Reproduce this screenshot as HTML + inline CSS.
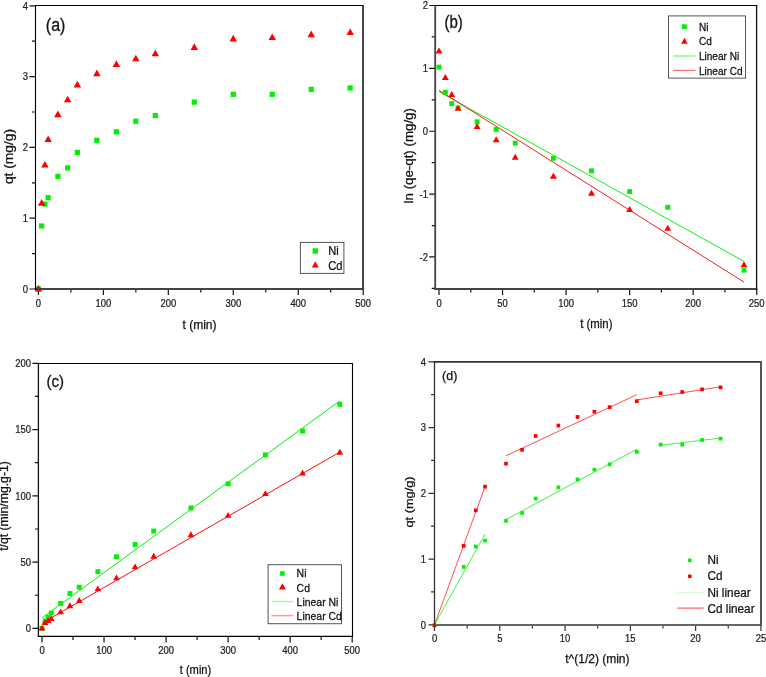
<!DOCTYPE html>
<html><head><meta charset="utf-8"><style>
html,body{margin:0;padding:0;background:#fff;}
svg{display:block;will-change:transform;filter:blur(0.35px);}
</style></head><body>
<svg width="766" height="677" viewBox="0 0 766 677">
<rect width="766" height="677" fill="#fff"/>
<path d="M38.40,289.0v6M103.36,289.0v6M168.32,289.0v6M233.28,289.0v6M298.24,289.0v6M363.20,289.0v6M70.88,289.0v3.5M135.84,289.0v3.5M200.80,289.0v3.5M265.76,289.0v3.5M330.72,289.0v3.5M35.5,289.00h-6M35.5,218.20h-6M35.5,147.40h-6M35.5,76.60h-6M35.5,5.80h-6M35.5,253.60h-3.5M35.5,182.80h-3.5M35.5,112.00h-3.5M35.5,41.20h-3.5" fill="none" stroke="#111" stroke-width="1.2"/>
<text transform="translate(38.40,307.00) scale(0.9,1.0)" font-size="10.5" text-anchor="middle" font-family="Liberation Sans, sans-serif" fill="#222" stroke="#222" stroke-width="0.25">0</text>
<text transform="translate(103.36,307.00) scale(0.9,1.0)" font-size="10.5" text-anchor="middle" font-family="Liberation Sans, sans-serif" fill="#222" stroke="#222" stroke-width="0.25">100</text>
<text transform="translate(168.32,307.00) scale(0.9,1.0)" font-size="10.5" text-anchor="middle" font-family="Liberation Sans, sans-serif" fill="#222" stroke="#222" stroke-width="0.25">200</text>
<text transform="translate(233.28,307.00) scale(0.9,1.0)" font-size="10.5" text-anchor="middle" font-family="Liberation Sans, sans-serif" fill="#222" stroke="#222" stroke-width="0.25">300</text>
<text transform="translate(298.24,307.00) scale(0.9,1.0)" font-size="10.5" text-anchor="middle" font-family="Liberation Sans, sans-serif" fill="#222" stroke="#222" stroke-width="0.25">400</text>
<text transform="translate(363.20,307.00) scale(0.9,1.0)" font-size="10.5" text-anchor="middle" font-family="Liberation Sans, sans-serif" fill="#222" stroke="#222" stroke-width="0.25">500</text>
<text transform="translate(28.00,292.78) scale(0.9,1.0)" font-size="10.5" text-anchor="end" font-family="Liberation Sans, sans-serif" fill="#222" stroke="#222" stroke-width="0.25">0</text>
<text transform="translate(28.00,221.98) scale(0.9,1.0)" font-size="10.5" text-anchor="end" font-family="Liberation Sans, sans-serif" fill="#222" stroke="#222" stroke-width="0.25">1</text>
<text transform="translate(28.00,151.18) scale(0.9,1.0)" font-size="10.5" text-anchor="end" font-family="Liberation Sans, sans-serif" fill="#222" stroke="#222" stroke-width="0.25">2</text>
<text transform="translate(28.00,80.38) scale(0.9,1.0)" font-size="10.5" text-anchor="end" font-family="Liberation Sans, sans-serif" fill="#222" stroke="#222" stroke-width="0.25">3</text>
<text transform="translate(28.00,9.58) scale(0.9,1.0)" font-size="10.5" text-anchor="end" font-family="Liberation Sans, sans-serif" fill="#222" stroke="#222" stroke-width="0.25">4</text>
<text transform="translate(199.50,329.40)" font-size="12" text-anchor="middle" font-family="Liberation Sans, sans-serif" fill="#111" stroke="#111" stroke-width="0.25">t (min)</text>
<text transform="translate(13.40,156.50) rotate(-90) scale(1.15,1)" font-size="12" text-anchor="middle" font-family="Liberation Sans, sans-serif" fill="#111" stroke="#111" stroke-width="0.25">qt (mg/g)</text>
<text transform="translate(45.80,31.00) scale(1,1.13)" font-size="16" text-anchor="start" font-family="Liberation Sans, sans-serif" fill="#111" stroke="#111" stroke-width="0.25">(a)</text>
<rect x="35.80" y="286.40" width="5.2" height="5.2" fill="#00f000"/>
<rect x="39.05" y="223.39" width="5.2" height="5.2" fill="#00f000"/>
<rect x="42.30" y="201.44" width="5.2" height="5.2" fill="#00f000"/>
<rect x="45.54" y="195.07" width="5.2" height="5.2" fill="#00f000"/>
<rect x="55.29" y="173.83" width="5.2" height="5.2" fill="#00f000"/>
<rect x="65.03" y="165.33" width="5.2" height="5.2" fill="#00f000"/>
<rect x="74.78" y="149.76" width="5.2" height="5.2" fill="#00f000"/>
<rect x="94.26" y="137.72" width="5.2" height="5.2" fill="#00f000"/>
<rect x="113.75" y="129.22" width="5.2" height="5.2" fill="#00f000"/>
<rect x="133.24" y="118.60" width="5.2" height="5.2" fill="#00f000"/>
<rect x="152.73" y="112.94" width="5.2" height="5.2" fill="#00f000"/>
<rect x="191.70" y="99.49" width="5.2" height="5.2" fill="#00f000"/>
<rect x="230.68" y="91.70" width="5.2" height="5.2" fill="#00f000"/>
<rect x="269.66" y="91.70" width="5.2" height="5.2" fill="#00f000"/>
<rect x="308.63" y="86.74" width="5.2" height="5.2" fill="#00f000"/>
<rect x="347.61" y="85.33" width="5.2" height="5.2" fill="#00f000"/>
<path d="M38.40,284.78L42.15,291.38L34.65,291.38Z" fill="#ff0000"/>
<path d="M41.65,199.11L45.40,205.71L37.90,205.71Z" fill="#ff0000"/>
<path d="M44.90,160.88L48.65,167.48L41.15,167.48Z" fill="#ff0000"/>
<path d="M48.14,135.39L51.89,141.99L44.39,141.99Z" fill="#ff0000"/>
<path d="M57.89,110.61L61.64,117.21L54.14,117.21Z" fill="#ff0000"/>
<path d="M67.63,95.74L71.38,102.34L63.88,102.34Z" fill="#ff0000"/>
<path d="M77.38,80.87L81.13,87.47L73.63,87.47Z" fill="#ff0000"/>
<path d="M96.86,69.54L100.61,76.14L93.11,76.14Z" fill="#ff0000"/>
<path d="M116.35,60.34L120.10,66.94L112.60,66.94Z" fill="#ff0000"/>
<path d="M135.84,54.68L139.59,61.28L132.09,61.28Z" fill="#ff0000"/>
<path d="M155.33,49.72L159.08,56.32L151.58,56.32Z" fill="#ff0000"/>
<path d="M194.30,43.35L198.05,49.95L190.55,49.95Z" fill="#ff0000"/>
<path d="M233.28,34.85L237.03,41.45L229.53,41.45Z" fill="#ff0000"/>
<path d="M272.26,33.44L276.01,40.04L268.51,40.04Z" fill="#ff0000"/>
<path d="M311.23,30.60L314.98,37.20L307.48,37.20Z" fill="#ff0000"/>
<path d="M350.21,28.48L353.96,35.08L346.46,35.08Z" fill="#ff0000"/>
<path d="M34.95,5.5H363.9" stroke="#000" stroke-width="1.1"/>
<path d="M34.95,289.0H363.9" stroke="#444" stroke-width="2"/>
<path d="M35.5,4.95V290.0" stroke="#000" stroke-width="1.1"/>
<path d="M363.0,4.95V290.0" stroke="#333" stroke-width="1.8"/>
<rect x="300.4" y="242.4" width="43.5" height="31" fill="none" stroke="#555" stroke-width="1"/>
<rect x="312.55" y="248.25" width="5.5" height="5.5" fill="#00f000"/>
<path d="M315.30,261.22L318.80,267.52L311.80,267.52Z" fill="#ff0000"/>
<text transform="translate(328.20,255.20) scale(0.93,1.0)" font-size="12" text-anchor="start" font-family="Liberation Sans, sans-serif" fill="#111" stroke="#111" stroke-width="0.25">Ni</text>
<text transform="translate(328.20,270.00) scale(0.93,1.0)" font-size="12" text-anchor="start" font-family="Liberation Sans, sans-serif" fill="#111" stroke="#111" stroke-width="0.25">Cd</text>
<path d="M439.00,288.9v6M502.54,288.9v6M566.08,288.9v6M629.62,288.9v6M693.16,288.9v6M756.70,288.9v6M470.77,288.9v3.5M534.31,288.9v3.5M597.85,288.9v3.5M661.39,288.9v3.5M724.93,288.9v3.5M435.2,256.97h-6M435.2,194.10h-6M435.2,131.23h-6M435.2,68.37h-6M435.2,5.50h-6M435.2,288.40h-3.5M435.2,225.53h-3.5M435.2,162.67h-3.5M435.2,99.80h-3.5M435.2,36.93h-3.5" fill="none" stroke="#111" stroke-width="1.2"/>
<text transform="translate(439.00,306.80) scale(0.9,1.0)" font-size="10.5" text-anchor="middle" font-family="Liberation Sans, sans-serif" fill="#222" stroke="#222" stroke-width="0.25">0</text>
<text transform="translate(502.54,306.80) scale(0.9,1.0)" font-size="10.5" text-anchor="middle" font-family="Liberation Sans, sans-serif" fill="#222" stroke="#222" stroke-width="0.25">50</text>
<text transform="translate(566.08,306.80) scale(0.9,1.0)" font-size="10.5" text-anchor="middle" font-family="Liberation Sans, sans-serif" fill="#222" stroke="#222" stroke-width="0.25">100</text>
<text transform="translate(629.62,306.80) scale(0.9,1.0)" font-size="10.5" text-anchor="middle" font-family="Liberation Sans, sans-serif" fill="#222" stroke="#222" stroke-width="0.25">150</text>
<text transform="translate(693.16,306.80) scale(0.9,1.0)" font-size="10.5" text-anchor="middle" font-family="Liberation Sans, sans-serif" fill="#222" stroke="#222" stroke-width="0.25">200</text>
<text transform="translate(756.70,306.80) scale(0.9,1.0)" font-size="10.5" text-anchor="middle" font-family="Liberation Sans, sans-serif" fill="#222" stroke="#222" stroke-width="0.25">250</text>
<text transform="translate(428.00,260.75) scale(0.9,1.0)" font-size="10.5" text-anchor="end" font-family="Liberation Sans, sans-serif" fill="#222" stroke="#222" stroke-width="0.25">-2</text>
<text transform="translate(428.00,197.88) scale(0.9,1.0)" font-size="10.5" text-anchor="end" font-family="Liberation Sans, sans-serif" fill="#222" stroke="#222" stroke-width="0.25">-1</text>
<text transform="translate(428.00,135.01) scale(0.9,1.0)" font-size="10.5" text-anchor="end" font-family="Liberation Sans, sans-serif" fill="#222" stroke="#222" stroke-width="0.25">0</text>
<text transform="translate(428.00,72.15) scale(0.9,1.0)" font-size="10.5" text-anchor="end" font-family="Liberation Sans, sans-serif" fill="#222" stroke="#222" stroke-width="0.25">1</text>
<text transform="translate(428.00,9.28) scale(0.9,1.0)" font-size="10.5" text-anchor="end" font-family="Liberation Sans, sans-serif" fill="#222" stroke="#222" stroke-width="0.25">2</text>
<text transform="translate(596.30,327.70) scale(0.95,1)" font-size="12" text-anchor="middle" font-family="Liberation Sans, sans-serif" fill="#111" stroke="#111" stroke-width="0.25">t (min)</text>
<text transform="translate(412.50,155.75) rotate(-90) scale(1.11,1)" font-size="12" text-anchor="middle" font-family="Liberation Sans, sans-serif" fill="#111" stroke="#111" stroke-width="0.25">ln (qe-qt) (mg/g)</text>
<text transform="translate(444.50,27.95) scale(1,1.18)" font-size="15" text-anchor="start" font-family="Liberation Sans, sans-serif" fill="#111" stroke="#111" stroke-width="0.25">(b)</text>
<path d="M439.00,91.63 L743.99,261.37" fill="none" stroke="#00f000" stroke-width="0.95"/>
<path d="M439.00,90.37 L743.99,282.11" fill="none" stroke="#ff0000" stroke-width="0.9"/>
<rect x="436.55" y="64.66" width="4.9" height="4.9" fill="#00f000"/>
<rect x="442.90" y="89.81" width="4.9" height="4.9" fill="#00f000"/>
<rect x="449.26" y="101.12" width="4.9" height="4.9" fill="#00f000"/>
<rect x="455.61" y="105.52" width="4.9" height="4.9" fill="#00f000"/>
<rect x="474.67" y="119.35" width="4.9" height="4.9" fill="#00f000"/>
<rect x="493.74" y="126.90" width="4.9" height="4.9" fill="#00f000"/>
<rect x="512.80" y="140.73" width="4.9" height="4.9" fill="#00f000"/>
<rect x="550.92" y="155.82" width="4.9" height="4.9" fill="#00f000"/>
<rect x="589.05" y="168.39" width="4.9" height="4.9" fill="#00f000"/>
<rect x="627.17" y="189.14" width="4.9" height="4.9" fill="#00f000"/>
<rect x="665.29" y="204.85" width="4.9" height="4.9" fill="#00f000"/>
<rect x="741.54" y="267.72" width="4.9" height="4.9" fill="#00f000"/>
<path d="M439.00,47.51L442.45,53.58L435.55,53.58Z" fill="#ff0000"/>
<path d="M445.35,73.91L448.80,79.98L441.90,79.98Z" fill="#ff0000"/>
<path d="M451.71,90.88L455.16,96.96L448.26,96.96Z" fill="#ff0000"/>
<path d="M458.06,104.72L461.51,110.79L454.61,110.79Z" fill="#ff0000"/>
<path d="M477.12,122.95L480.57,129.02L473.67,129.02Z" fill="#ff0000"/>
<path d="M496.19,136.15L499.64,142.22L492.74,142.22Z" fill="#ff0000"/>
<path d="M515.25,153.75L518.70,159.82L511.80,159.82Z" fill="#ff0000"/>
<path d="M553.37,172.61L556.82,178.68L549.92,178.68Z" fill="#ff0000"/>
<path d="M591.50,189.59L594.95,195.66L588.05,195.66Z" fill="#ff0000"/>
<path d="M629.62,205.93L633.07,212.00L626.17,212.00Z" fill="#ff0000"/>
<path d="M667.74,224.79L671.19,230.86L664.29,230.86Z" fill="#ff0000"/>
<path d="M743.99,261.25L747.44,267.33L740.54,267.33Z" fill="#ff0000"/>
<path d="M434.3,5.5H757.25" stroke="#000" stroke-width="1.1"/>
<path d="M434.3,288.9H757.25" stroke="#444" stroke-width="2"/>
<path d="M435.2,4.95V289.9" stroke="#444" stroke-width="1.8"/>
<path d="M756.6,4.95V289.9" stroke="#111" stroke-width="1.3"/>
<rect x="668.5" y="15.9" width="77" height="62.2" fill="none" stroke="#555" stroke-width="1"/>
<rect x="682.00" y="24.30" width="4.8" height="4.8" fill="#00f000"/>
<path d="M684.40,37.79L687.65,43.64L681.15,43.64Z" fill="#ff0000"/>
<path d="M673,56H695.5" stroke="#7f7" stroke-width="1.4"/>
<path d="M673,70.3H695.5" stroke="#f55" stroke-width="1"/>
<text transform="translate(698.90,30.60) scale(0.95,1)" font-size="10.6" text-anchor="start" font-family="Liberation Sans, sans-serif" fill="#111" stroke="#111" stroke-width="0.25">Ni</text>
<text transform="translate(698.90,45.20) scale(0.95,1)" font-size="10.6" text-anchor="start" font-family="Liberation Sans, sans-serif" fill="#111" stroke="#111" stroke-width="0.25">Cd</text>
<text transform="translate(698.90,59.60) scale(0.95,1)" font-size="10.6" text-anchor="start" font-family="Liberation Sans, sans-serif" fill="#111" stroke="#111" stroke-width="0.25">Linear Ni</text>
<text transform="translate(698.90,74.60) scale(0.95,1)" font-size="10.6" text-anchor="start" font-family="Liberation Sans, sans-serif" fill="#111" stroke="#111" stroke-width="0.25">Linear Cd</text>
<path d="M42.00,636.4v6M104.04,636.4v6M166.08,636.4v6M228.12,636.4v6M290.16,636.4v6M352.20,636.4v6M73.02,636.4v3.5M135.06,636.4v3.5M197.10,636.4v3.5M259.14,636.4v3.5M321.18,636.4v3.5M38.4,628.40h-6M38.4,562.12h-6M38.4,495.85h-6M38.4,429.58h-6M38.4,363.30h-6M38.4,595.26h-3.5M38.4,528.99h-3.5M38.4,462.71h-3.5M38.4,396.44h-3.5" fill="none" stroke="#111" stroke-width="1.2"/>
<text transform="translate(42.00,653.60) scale(0.9,1.0)" font-size="10.5" text-anchor="middle" font-family="Liberation Sans, sans-serif" fill="#222" stroke="#222" stroke-width="0.25">0</text>
<text transform="translate(104.04,653.60) scale(0.9,1.0)" font-size="10.5" text-anchor="middle" font-family="Liberation Sans, sans-serif" fill="#222" stroke="#222" stroke-width="0.25">100</text>
<text transform="translate(166.08,653.60) scale(0.9,1.0)" font-size="10.5" text-anchor="middle" font-family="Liberation Sans, sans-serif" fill="#222" stroke="#222" stroke-width="0.25">200</text>
<text transform="translate(228.12,653.60) scale(0.9,1.0)" font-size="10.5" text-anchor="middle" font-family="Liberation Sans, sans-serif" fill="#222" stroke="#222" stroke-width="0.25">300</text>
<text transform="translate(290.16,653.60) scale(0.9,1.0)" font-size="10.5" text-anchor="middle" font-family="Liberation Sans, sans-serif" fill="#222" stroke="#222" stroke-width="0.25">400</text>
<text transform="translate(352.20,653.60) scale(0.9,1.0)" font-size="10.5" text-anchor="middle" font-family="Liberation Sans, sans-serif" fill="#222" stroke="#222" stroke-width="0.25">500</text>
<text transform="translate(31.00,632.18) scale(0.9,1.0)" font-size="10.5" text-anchor="end" font-family="Liberation Sans, sans-serif" fill="#222" stroke="#222" stroke-width="0.25">0</text>
<text transform="translate(31.00,565.90) scale(0.9,1.0)" font-size="10.5" text-anchor="end" font-family="Liberation Sans, sans-serif" fill="#222" stroke="#222" stroke-width="0.25">50</text>
<text transform="translate(31.00,499.63) scale(0.9,1.0)" font-size="10.5" text-anchor="end" font-family="Liberation Sans, sans-serif" fill="#222" stroke="#222" stroke-width="0.25">100</text>
<text transform="translate(31.00,433.36) scale(0.9,1.0)" font-size="10.5" text-anchor="end" font-family="Liberation Sans, sans-serif" fill="#222" stroke="#222" stroke-width="0.25">150</text>
<text transform="translate(31.00,367.08) scale(0.9,1.0)" font-size="10.5" text-anchor="end" font-family="Liberation Sans, sans-serif" fill="#222" stroke="#222" stroke-width="0.25">200</text>
<text transform="translate(195.50,674.00) scale(0.93,1)" font-size="12" text-anchor="middle" font-family="Liberation Sans, sans-serif" fill="#111" stroke="#111" stroke-width="0.25">t (min)</text>
<text transform="translate(7.80,506.00) rotate(-90) scale(1.02,1)" font-size="12" text-anchor="middle" font-family="Liberation Sans, sans-serif" fill="#111" stroke="#111" stroke-width="0.25">t/qt (min/mg.g-1)</text>
<text transform="translate(46.50,387.30) scale(1,1.11)" font-size="15" text-anchor="start" font-family="Liberation Sans, sans-serif" fill="#111" stroke="#111" stroke-width="0.25">(c)</text>
<path d="M42.00,617.80 L339.79,400.94" fill="none" stroke="#00f000" stroke-width="1"/>
<path d="M42.00,623.10 L339.79,452.11" fill="none" stroke="#ff0000" stroke-width="0.95"/>
<rect x="39.55" y="625.95" width="4.9" height="4.9" fill="#00f000"/>
<rect x="42.65" y="618.50" width="4.9" height="4.9" fill="#00f000"/>
<rect x="45.75" y="614.90" width="4.9" height="4.9" fill="#00f000"/>
<rect x="48.86" y="610.54" width="4.9" height="4.9" fill="#00f000"/>
<rect x="58.16" y="600.94" width="4.9" height="4.9" fill="#00f000"/>
<rect x="67.47" y="591.07" width="4.9" height="4.9" fill="#00f000"/>
<rect x="76.77" y="584.74" width="4.9" height="4.9" fill="#00f000"/>
<rect x="95.39" y="569.14" width="4.9" height="4.9" fill="#00f000"/>
<rect x="114.00" y="554.30" width="4.9" height="4.9" fill="#00f000"/>
<rect x="132.61" y="542.06" width="4.9" height="4.9" fill="#00f000"/>
<rect x="151.22" y="528.57" width="4.9" height="4.9" fill="#00f000"/>
<rect x="188.45" y="505.45" width="4.9" height="4.9" fill="#00f000"/>
<rect x="225.67" y="481.35" width="4.9" height="4.9" fill="#00f000"/>
<rect x="262.89" y="452.43" width="4.9" height="4.9" fill="#00f000"/>
<rect x="300.12" y="428.54" width="4.9" height="4.9" fill="#00f000"/>
<rect x="337.34" y="401.92" width="4.9" height="4.9" fill="#00f000"/>
<path d="M42.00,624.63L45.35,630.52L38.65,630.52Z" fill="#ff0000"/>
<path d="M45.10,619.15L48.45,625.05L41.75,625.05Z" fill="#ff0000"/>
<path d="M48.20,617.05L51.55,622.95L44.85,622.95Z" fill="#ff0000"/>
<path d="M51.31,615.20L54.66,621.10L47.96,621.10Z" fill="#ff0000"/>
<path d="M60.61,608.46L63.96,614.36L57.26,614.36Z" fill="#ff0000"/>
<path d="M69.92,602.29L73.27,608.18L66.57,608.18Z" fill="#ff0000"/>
<path d="M79.22,597.01L82.57,602.91L75.87,602.91Z" fill="#ff0000"/>
<path d="M97.84,585.38L101.19,591.28L94.49,591.28Z" fill="#ff0000"/>
<path d="M116.45,574.45L119.80,580.35L113.10,580.35Z" fill="#ff0000"/>
<path d="M135.06,563.45L138.41,569.35L131.71,569.35Z" fill="#ff0000"/>
<path d="M153.67,552.76L157.02,558.66L150.32,558.66Z" fill="#ff0000"/>
<path d="M190.90,531.34L194.25,537.23L187.55,537.23Z" fill="#ff0000"/>
<path d="M228.12,511.98L231.47,517.87L224.77,517.87Z" fill="#ff0000"/>
<path d="M265.34,490.21L268.69,496.11L261.99,496.11Z" fill="#ff0000"/>
<path d="M302.57,469.55L305.92,475.45L299.22,475.45Z" fill="#ff0000"/>
<path d="M339.79,448.87L343.14,454.77L336.44,454.77Z" fill="#ff0000"/>
<path d="M37.75,363.5H353.05" stroke="#000" stroke-width="1.1"/>
<path d="M37.75,636.4H353.05" stroke="#000" stroke-width="1.1"/>
<path d="M38.4,362.95V636.9499999999999" stroke="#111" stroke-width="1.3"/>
<path d="M352.5,362.95V636.9499999999999" stroke="#000" stroke-width="1.1"/>
<rect x="268.1" y="564.7" width="73.4" height="59" fill="none" stroke="#555" stroke-width="1"/>
<rect x="280.10" y="571.20" width="4.6" height="4.6" fill="#00f000"/>
<path d="M282.40,583.32L285.90,589.62L278.90,589.62Z" fill="#ff0000"/>
<path d="M271.5,601.5H293.3" stroke="#9f9" stroke-width="1.5"/>
<path d="M271.5,615.6H293.3" stroke="#f99" stroke-width="1.5"/>
<text transform="translate(296.60,577.30) scale(0.95,1)" font-size="11" text-anchor="start" font-family="Liberation Sans, sans-serif" fill="#111" stroke="#111" stroke-width="0.25">Ni</text>
<text transform="translate(296.60,592.00) scale(0.95,1)" font-size="11" text-anchor="start" font-family="Liberation Sans, sans-serif" fill="#111" stroke="#111" stroke-width="0.25">Cd</text>
<text transform="translate(296.60,605.80) scale(0.95,1)" font-size="11" text-anchor="start" font-family="Liberation Sans, sans-serif" fill="#111" stroke="#111" stroke-width="0.25">Linear Ni</text>
<text transform="translate(296.60,619.60) scale(0.95,1)" font-size="11" text-anchor="start" font-family="Liberation Sans, sans-serif" fill="#111" stroke="#111" stroke-width="0.25">Linear Cd</text>
<path d="M434.50,624.9v6M499.78,624.9v6M565.06,624.9v6M630.34,624.9v6M695.62,624.9v6M760.90,624.9v6M467.14,624.9v3.5M532.42,624.9v3.5M597.70,624.9v3.5M662.98,624.9v3.5M728.26,624.9v3.5M434.5,624.80h-6M434.5,559.05h-6M434.5,493.30h-6M434.5,427.55h-6M434.5,361.80h-6M434.5,591.92h-3.5M434.5,526.17h-3.5M434.5,460.42h-3.5M434.5,394.68h-3.5" fill="none" stroke="#333" stroke-width="1.2"/>
<text transform="translate(434.50,641.50) scale(0.9,1.0)" font-size="10.5" text-anchor="middle" font-family="Liberation Sans, sans-serif" fill="#222" stroke="#222" stroke-width="0.25">0</text>
<text transform="translate(499.78,641.50) scale(0.9,1.0)" font-size="10.5" text-anchor="middle" font-family="Liberation Sans, sans-serif" fill="#222" stroke="#222" stroke-width="0.25">5</text>
<text transform="translate(565.06,641.50) scale(0.9,1.0)" font-size="10.5" text-anchor="middle" font-family="Liberation Sans, sans-serif" fill="#222" stroke="#222" stroke-width="0.25">10</text>
<text transform="translate(630.34,641.50) scale(0.9,1.0)" font-size="10.5" text-anchor="middle" font-family="Liberation Sans, sans-serif" fill="#222" stroke="#222" stroke-width="0.25">15</text>
<text transform="translate(695.62,641.50) scale(0.9,1.0)" font-size="10.5" text-anchor="middle" font-family="Liberation Sans, sans-serif" fill="#222" stroke="#222" stroke-width="0.25">20</text>
<text transform="translate(760.90,641.50) scale(0.9,1.0)" font-size="10.5" text-anchor="middle" font-family="Liberation Sans, sans-serif" fill="#222" stroke="#222" stroke-width="0.25">25</text>
<text transform="translate(426.00,628.58) scale(0.9,1.0)" font-size="10.5" text-anchor="end" font-family="Liberation Sans, sans-serif" fill="#222" stroke="#222" stroke-width="0.25">0</text>
<text transform="translate(426.00,562.83) scale(0.9,1.0)" font-size="10.5" text-anchor="end" font-family="Liberation Sans, sans-serif" fill="#222" stroke="#222" stroke-width="0.25">1</text>
<text transform="translate(426.00,497.08) scale(0.9,1.0)" font-size="10.5" text-anchor="end" font-family="Liberation Sans, sans-serif" fill="#222" stroke="#222" stroke-width="0.25">2</text>
<text transform="translate(426.00,431.33) scale(0.9,1.0)" font-size="10.5" text-anchor="end" font-family="Liberation Sans, sans-serif" fill="#222" stroke="#222" stroke-width="0.25">3</text>
<text transform="translate(426.00,365.58) scale(0.9,1.0)" font-size="10.5" text-anchor="end" font-family="Liberation Sans, sans-serif" fill="#222" stroke="#222" stroke-width="0.25">4</text>
<text transform="translate(597.40,663.20)" font-size="12" text-anchor="middle" font-family="Liberation Sans, sans-serif" fill="#111" stroke="#111" stroke-width="0.25">t^(1/2) (min)</text>
<text transform="translate(412.70,502.00) rotate(-90) scale(1.22,1)" font-size="10.5" text-anchor="middle" font-family="Liberation Sans, sans-serif" fill="#111" stroke="#111" stroke-width="0.25">qt (mg/g)</text>
<text transform="translate(442.10,380.00)" font-size="12.5" text-anchor="start" font-family="Liberation Sans, sans-serif" fill="#111" stroke="#111" stroke-width="0.25">(d)</text>
<path d="M434.50,624.80 L485.03,486.72" fill="none" stroke="#ff0000" stroke-width="0.7"/>
<path d="M434.50,624.80 L485.03,534.06" fill="none" stroke="#00f000" stroke-width="0.75"/>
<path d="M506.05,455.82 L636.74,394.68" fill="none" stroke="#ff0000" stroke-width="0.7"/>
<path d="M506.05,519.60 L636.74,449.25" fill="none" stroke="#00f000" stroke-width="0.75"/>
<path d="M636.74,399.94 L720.43,386.78" fill="none" stroke="#ff0000" stroke-width="0.7"/>
<path d="M660.37,445.30 L720.43,438.07" fill="none" stroke="#00f000" stroke-width="0.75"/>
<rect x="432.65" y="623.55" width="3.7" height="3.7" fill="#00f000"/>
<rect x="461.84" y="565.03" width="3.7" height="3.7" fill="#00f000"/>
<rect x="473.94" y="544.65" width="3.7" height="3.7" fill="#00f000"/>
<rect x="483.22" y="538.73" width="3.7" height="3.7" fill="#00f000"/>
<rect x="504.16" y="519.01" width="3.7" height="3.7" fill="#00f000"/>
<rect x="520.23" y="511.12" width="3.7" height="3.7" fill="#00f000"/>
<rect x="533.78" y="496.65" width="3.7" height="3.7" fill="#00f000"/>
<rect x="556.51" y="485.47" width="3.7" height="3.7" fill="#00f000"/>
<rect x="575.67" y="477.58" width="3.7" height="3.7" fill="#00f000"/>
<rect x="592.55" y="467.72" width="3.7" height="3.7" fill="#00f000"/>
<rect x="607.81" y="462.46" width="3.7" height="3.7" fill="#00f000"/>
<rect x="634.91" y="449.97" width="3.7" height="3.7" fill="#00f000"/>
<rect x="658.79" y="442.74" width="3.7" height="3.7" fill="#00f000"/>
<rect x="680.37" y="442.74" width="3.7" height="3.7" fill="#00f000"/>
<rect x="700.22" y="438.13" width="3.7" height="3.7" fill="#00f000"/>
<rect x="718.69" y="436.82" width="3.7" height="3.7" fill="#00f000"/>
<rect x="432.65" y="623.55" width="3.7" height="3.7" fill="#ff0000"/>
<rect x="461.84" y="543.99" width="3.7" height="3.7" fill="#ff0000"/>
<rect x="473.94" y="508.49" width="3.7" height="3.7" fill="#ff0000"/>
<rect x="483.22" y="484.82" width="3.7" height="3.7" fill="#ff0000"/>
<rect x="504.16" y="461.80" width="3.7" height="3.7" fill="#ff0000"/>
<rect x="520.23" y="448.00" width="3.7" height="3.7" fill="#ff0000"/>
<rect x="533.78" y="434.19" width="3.7" height="3.7" fill="#ff0000"/>
<rect x="556.51" y="423.67" width="3.7" height="3.7" fill="#ff0000"/>
<rect x="575.67" y="415.12" width="3.7" height="3.7" fill="#ff0000"/>
<rect x="592.55" y="409.86" width="3.7" height="3.7" fill="#ff0000"/>
<rect x="607.81" y="405.26" width="3.7" height="3.7" fill="#ff0000"/>
<rect x="634.91" y="399.34" width="3.7" height="3.7" fill="#ff0000"/>
<rect x="658.79" y="391.45" width="3.7" height="3.7" fill="#ff0000"/>
<rect x="680.37" y="390.14" width="3.7" height="3.7" fill="#ff0000"/>
<rect x="700.22" y="387.51" width="3.7" height="3.7" fill="#ff0000"/>
<rect x="718.69" y="385.53" width="3.7" height="3.7" fill="#ff0000"/>
<path d="M433.85,361.9H762.0" stroke="#333" stroke-width="1.8"/>
<path d="M433.85,624.9H762.0" stroke="#666" stroke-width="2"/>
<path d="M434.5,361.0V625.9" stroke="#333" stroke-width="1.3"/>
<path d="M761.0,361.0V625.9" stroke="#555" stroke-width="2"/>
<rect x="688.05" y="558.55" width="3.5" height="3.5" fill="#00f000"/>
<rect x="688.05" y="574.55" width="3.5" height="3.5" fill="#ff0000"/>
<path d="M677.3,592.3H703.6" stroke="#cfc" stroke-width="1"/>
<path d="M677.3,608.1H703.6" stroke="#f44" stroke-width="1"/>
<text transform="translate(707.50,564.20) scale(0.98,1)" font-size="12" text-anchor="start" font-family="Liberation Sans, sans-serif" fill="#111" stroke="#111" stroke-width="0.25">Ni</text>
<text transform="translate(707.50,580.40) scale(0.98,1)" font-size="12" text-anchor="start" font-family="Liberation Sans, sans-serif" fill="#111" stroke="#111" stroke-width="0.25">Cd</text>
<text transform="translate(707.50,596.50) scale(0.98,1)" font-size="12" text-anchor="start" font-family="Liberation Sans, sans-serif" fill="#111" stroke="#111" stroke-width="0.25">Ni linear</text>
<text transform="translate(707.50,612.70) scale(0.98,1)" font-size="12" text-anchor="start" font-family="Liberation Sans, sans-serif" fill="#111" stroke="#111" stroke-width="0.25">Cd linear</text>
</svg></body></html>
